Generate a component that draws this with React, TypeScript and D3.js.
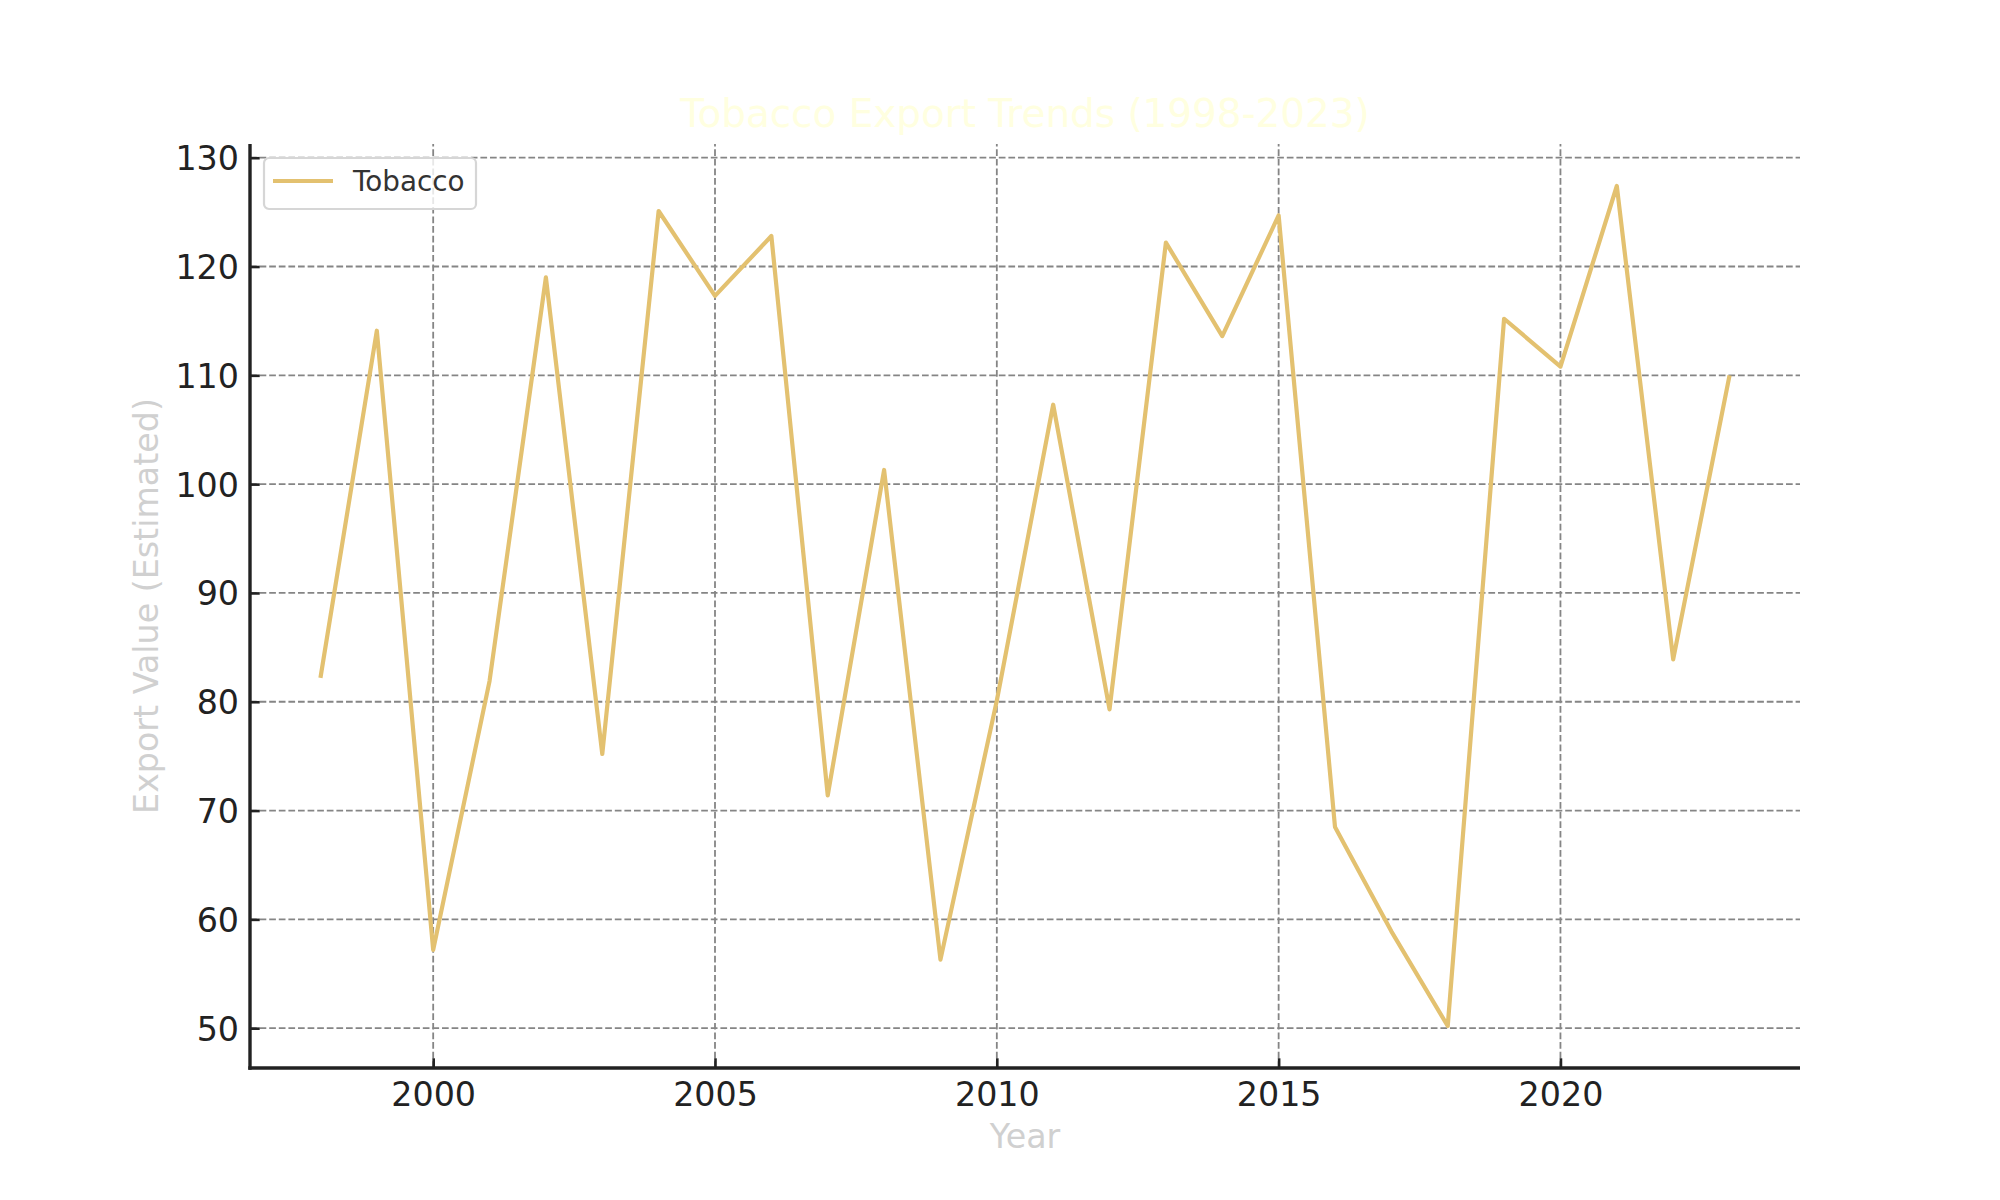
import React, { useRef, useEffect } from "react"
import * as d3 from "d3"

// data
const years: number[] = [
  1998, 1999, 2000, 2001, 2002, 2003, 2004, 2005, 2006, 2007, 2008, 2009, 2010,
  2011, 2012, 2013, 2014, 2015, 2016, 2017, 2018, 2019, 2020, 2021, 2022, 2023,
]
const tobacco: number[] = [
  82.2, 114.1, 57.2, 81.9, 119.0, 75.2, 125.1, 117.3, 122.8, 71.4, 101.3, 56.3, 80.1,
  107.3, 79.3, 122.2, 113.6, 124.7, 68.5, 58.9, 50.2, 115.2, 110.8, 127.4, 83.9, 110.0,
]
const xTicks: number[] = [2000, 2005, 2010, 2015, 2020]
const yTicks: number[] = [50, 60, 70, 80, 90, 100, 110, 120, 130]

const title = "Tobacco Export Trends (1998-2023)"
const xLabel = "Year"
const yLabel = "Export Value (Estimated)"
const seriesName = "Tobacco"

interface Point {
  year: number
  value: number
}

const App: React.FC = () => {
  const svgRef = useRef<SVGSVGElement | null>(null)
  const width = 2000
  const height = 1200

  useEffect(() => {
    const svg = d3.select(svgRef.current)
    svg.selectAll("*").remove()

    const data: Point[] = years.map((year, i) => ({ year, value: tobacco[i] }))
    const margin = { top: 144, right: 200, bottom: 132, left: 250 }
    const x0 = margin.left
    const x1 = width - margin.right
    const y0 = height - margin.bottom
    const y1 = margin.top
    const font = "'DejaVu Sans', sans-serif"

    // matplotlib style 5% padding
    const xMin = d3.min(years) as number
    const xMax = d3.max(years) as number
    const xPad = (xMax - xMin) * 0.05
    const yMin = d3.min(tobacco) as number
    const yMax = d3.max(tobacco) as number
    const yPad = (yMax - yMin) * 0.05

    const xScale = d3.scaleLinear().domain([xMin - xPad, xMax + xPad]).range([x0, x1])
    const yScale = d3.scaleLinear().domain([yMin - yPad, yMax + yPad]).range([y0, y1])

    svg.attr("viewBox", [0, 0, width, height])

    svg.append("rect")
      .attr("width", width)
      .attr("height", height)
      .attr("fill", "white")

    // GRID
    const grid = svg.append("g")
      .attr("stroke", "#858585")
      .attr("stroke-width", 1.8)
      .attr("stroke-dasharray", "6.7 2.9")
    grid.selectAll("line.gx")
      .data(xTicks)
      .enter()
      .append("line")
      .attr("x1", d => xScale(d))
      .attr("x2", d => xScale(d))
      .attr("y1", y0)
      .attr("y2", y1)
    grid.selectAll("line.gy")
      .data(yTicks)
      .enter()
      .append("line")
      .attr("class", "gy")
      .attr("x1", x0)
      .attr("x2", x1)
      .attr("y1", d => yScale(d))
      .attr("y2", d => yScale(d))

    // LINE
    const line = d3.line<Point>()
      .x(d => xScale(d.year))
      .y(d => yScale(d.value))

    svg.append("path")
      .datum(data)
      .attr("d", line)
      .attr("fill", "none")
      .attr("stroke", "#e3c170")
      .attr("stroke-width", 4.2)
      .attr("stroke-linejoin", "round")

    // AXES (inward ticks, left and bottom spines only)
    const xAxis = d3.axisBottom(xScale)
      .tickValues(xTicks)
      .tickFormat(d3.format("d"))
      .tickSizeInner(-9.7)
      .tickSizeOuter(0)
      .tickPadding(14)

    const yAxis = d3.axisLeft(yScale)
      .tickValues(yTicks)
      .tickFormat(d3.format("d"))
      .tickSizeInner(-9.7)
      .tickSizeOuter(0)
      .tickPadding(11)

    svg.append("g")
      .attr("transform", `translate(0,${y0})`)
      .call(xAxis)
      .call(g => g.select(".domain").remove())
      .call(g => g.selectAll(".tick line").attr("stroke", "#222").attr("stroke-width", 2.6))
      .call(g => g.selectAll(".tick text")
        .attr("fill", "#222")
        .attr("font-family", font)
        .attr("font-size", 33.3)
        .attr("dy", "0.71em"))

    svg.append("g")
      .attr("transform", `translate(${x0},0)`)
      .call(yAxis)
      .call(g => g.select(".domain").remove())
      .call(g => g.selectAll(".tick line").attr("stroke", "#222").attr("stroke-width", 2.6))
      .call(g => g.selectAll(".tick text")
        .attr("fill", "#222")
        .attr("font-family", font)
        .attr("font-size", 33.3)
        .attr("dy", "0.36em"))

    // spines
    svg.append("line")
      .attr("x1", x0).attr("x2", x0)
      .attr("y1", y1).attr("y2", y0 + 1.7)
      .attr("stroke", "#222").attr("stroke-width", 3.4)
    svg.append("line")
      .attr("x1", x0 - 1.7).attr("x2", x1)
      .attr("y1", y0).attr("y2", y0)
      .attr("stroke", "#222").attr("stroke-width", 3.4)

    // LABELS
    svg.append("text")
      .attr("x", (x0 + x1) / 2)
      .attr("y", 127)
      .attr("text-anchor", "middle")
      .attr("font-family", font)
      .attr("font-size", 38.9)
      .attr("fill", "#ffffe0")
      .text(title)

    svg.append("text")
      .attr("x", (x0 + x1) / 2)
      .attr("y", 1148)
      .attr("text-anchor", "middle")
      .attr("font-family", font)
      .attr("font-size", 33.3)
      .attr("fill", "#d0d0d0")
      .text(xLabel)

    svg.append("text")
      .attr("transform", `translate(158,${(y0 + y1) / 2}) rotate(-90)`)
      .attr("text-anchor", "middle")
      .attr("font-family", font)
      .attr("font-size", 33.3)
      .attr("fill", "#d0d0d0")
      .text(yLabel)

    // LEGEND
    const legend = svg.append("g")
      .attr("transform", `translate(${x0 + 14},${y1 + 14})`)
    legend.append("rect")
      .attr("width", 212)
      .attr("height", 51)
      .attr("rx", 5)
      .attr("fill", "white")
      .attr("fill-opacity", 0.8)
      .attr("stroke", "#d6d6d6")
      .attr("stroke-width", 2.2)
    legend.append("line")
      .attr("x1", 9).attr("x2", 69)
      .attr("y1", 23).attr("y2", 23)
      .attr("stroke", "#e3c170")
      .attr("stroke-width", 4.2)
    legend.append("text")
      .attr("x", 89)
      .attr("y", 23)
      .attr("dy", "0.36em")
      .attr("font-family", font)
      .attr("font-size", 27.8)
      .attr("fill", "#333")
      .text(seriesName)
  }, [])

  return (
    <svg
      ref={svgRef}
      width={width}
      height={height}
      style={{ position: "absolute", left: 0, top: 0, display: "block" }}
    ></svg>
  )
}

export default App
